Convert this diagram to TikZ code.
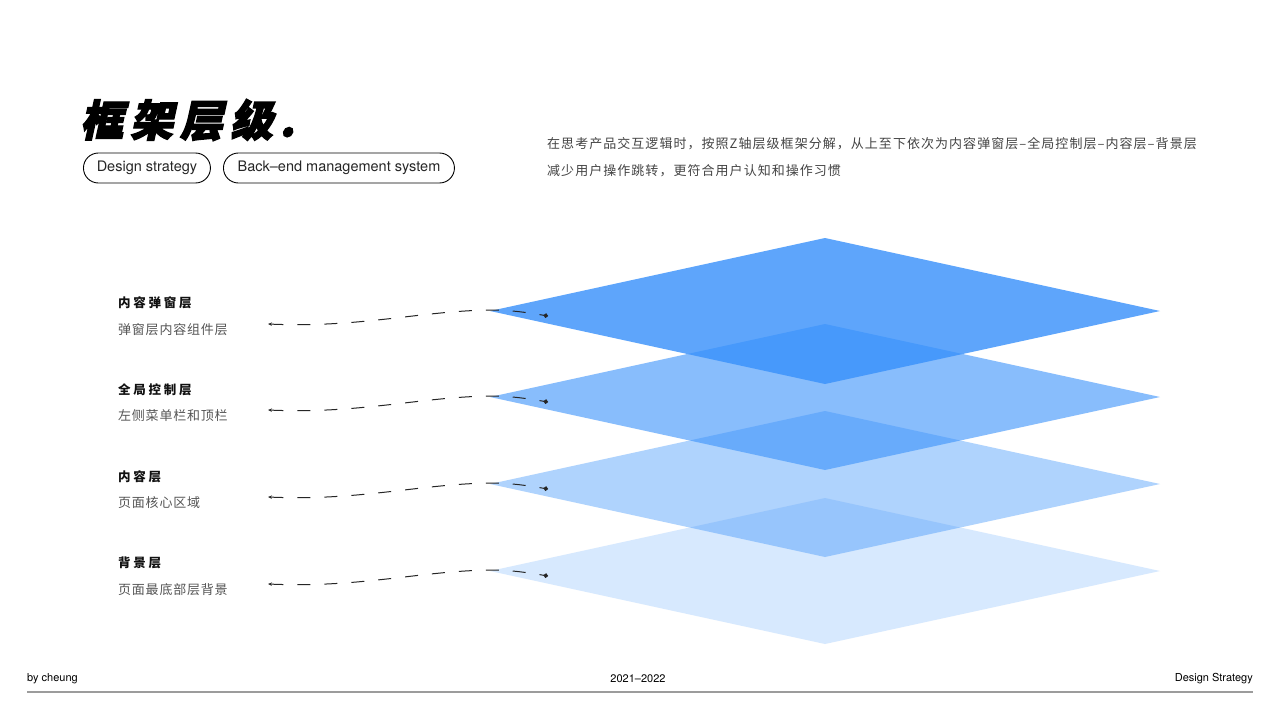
\documentclass[tikz,border=0pt]{standalone}
\usepackage{fontspec}
\usetikzlibrary{arrows.meta}
\setmainfont{TeX Gyre Heros}
\newfontfamily\cjk{Noto Sans CJK SC}
\newfontfamily\cjkb{Noto Sans CJK SC}[LetterSpace=22]
\newfontfamily\cjks{Noto Sans CJK SC}[LetterSpace=6]
\newfontfamily\cjkd{Noto Sans CJK SC}[LetterSpace=8]
\newfontfamily\cjktitle{Noto Sans CJK SC}[FakeSlant=0.22,FakeBold=3,LetterSpace=16]
\definecolor{lay}{RGB}{57,145,251}
\definecolor{txtdark}{HTML}{111111}
\definecolor{txtgray}{HTML}{555555}
\definecolor{desc}{HTML}{444444}
\definecolor{rule}{HTML}{9C9C9C}
\tikzset{
  layer/.style={fill=lay, draw=none},
  pill/.style={draw=black, line width=0.9pt, rounded corners=15pt, minimum height=30pt, inner xsep=10pt, font=\fontsize{14.5}{16}\selectfont, text=black!85},
  lbl/.style={anchor=west, inner sep=0pt, font=\cjkb\bfseries\fontsize{12.5}{14}\selectfont, text=txtdark},
  sub/.style={anchor=west, inner sep=0pt, font=\cjks\fontsize{13}{15}\selectfont, text=txtgray},
  dline/.style={draw=black!85, line width=1pt, dash pattern=on 13pt off 14pt, {Stealth[length=4pt,width=3.5pt]}-{Circle[length=4.5pt]}},
  foot/.style={inner sep=0pt, font=\fontsize{11}{13}\selectfont, text=black},
}
\begin{document}
\begin{tikzpicture}[x=1pt,y=-1pt]
\useasboundingbox (0,0) rectangle (1280,720);
\fill[white] (0,0) rectangle (1280,720);
% title
\node[anchor=west, inner sep=0pt, font=\cjktitle\bfseries\fontsize{43}{46}\selectfont, text=black] (title) at (80,120) {框架层级.};
\node[pill, anchor=west, minimum width=127pt] (p1) at (83,168) {Design strategy};
\node[pill, anchor=west, minimum width=231pt] (p2) at (223,168) {Back–end management system};
% description
\node[anchor=west, inner sep=0pt, font=\cjkd\fontsize{13}{15}\selectfont, text=desc] (d1) at (547,144) {在思考产品交互逻辑时，按照Z轴层级框架分解，从上至下依次为内容弹窗层–全局控制层–内容层–背景层};
\node[anchor=west, inner sep=0pt, font=\cjkd\fontsize{13}{15}\selectfont, text=desc] (d2) at (547,171) {减少用户操作跳转，更符合用户认知和操作习惯};
% layers (bottom first)
\foreach \cy/\op in {571/0.2, 484/0.4, 397/0.6, 311/0.81}{
  \path[layer, fill opacity=\op] (490,\cy) -- (825,\cy-73) -- (1160,\cy) -- (825,\cy+73) -- cycle;
}
% labels
\node[lbl] (l1) at (118,303) {内容弹窗层};
\node[sub] (s1) at (118,330) {弹窗层内容组件层};
\node[lbl] (l2) at (118,390) {全局控制层};
\node[sub] (s2) at (118,416) {左侧菜单栏和顶栏};
\node[lbl] (l3) at (118,477) {内容层};
\node[sub] (s3) at (118,503) {页面核心区域};
\node[lbl] (l4) at (118,563) {背景层};
\node[sub] (s4) at (118,590) {页面最底部层背景};
% connectors
\foreach \i/\cy in {1/311, 2/397, 3/484, 4/571}{
  \coordinate (a\i) at (268,\cy+13);
  \coordinate (m\i) at (490,\cy-1);
  \coordinate (b\i) at (548,\cy+5);
  \draw[dline] (a\i) .. controls (360,\cy+17) and (420,\cy) .. (m\i) .. controls (512,\cy-1) and (530,\cy+2) .. (b\i);
}
% footer
\node[foot, anchor=west] (f1) at (27,679) {by cheung};
\node[foot] (f2) at (638,679) {2021–2022};
\node[foot, anchor=east] (f3) at (1253,679) {Design Strategy};
\coordinate (r1) at (27,692);
\coordinate (r2) at (1253,692);
\draw[rule, line width=2pt] (r1) -- (r2);
\end{tikzpicture}
\end{document}
